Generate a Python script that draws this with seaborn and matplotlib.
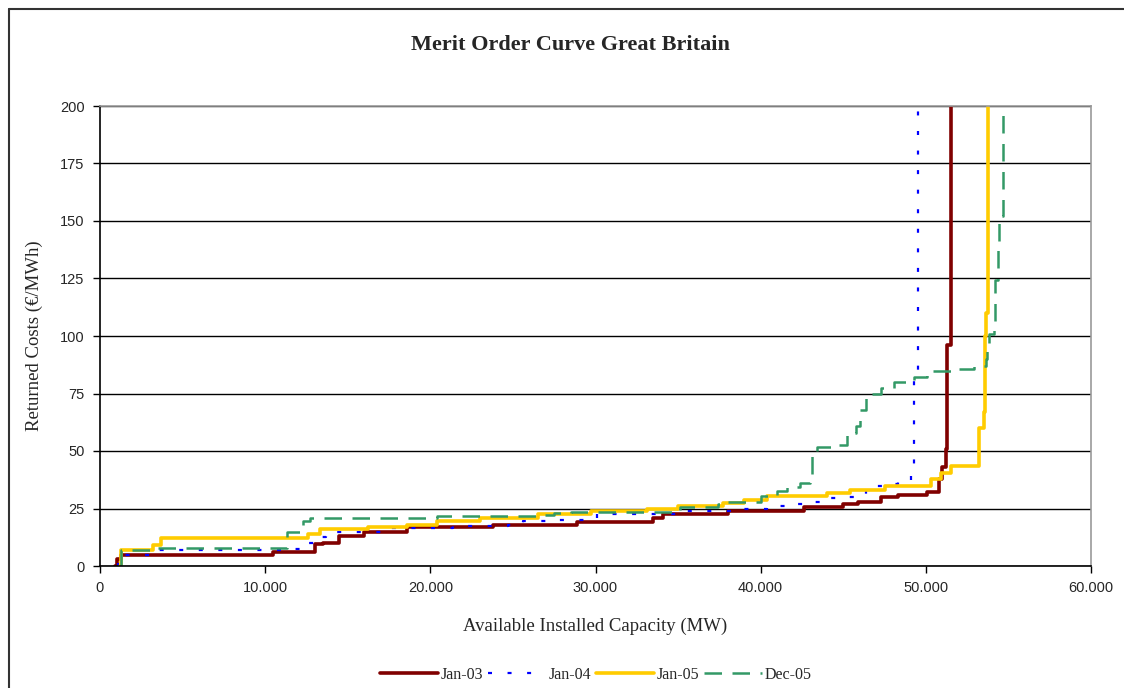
import numpy as np
import pandas as pd
import matplotlib
matplotlib.use("Agg")
import matplotlib.pyplot as plt
from matplotlib.lines import Line2D
import seaborn as sns

# Curvas de orden de mérito (capacidad MW, coste €/MWh)
cap_jan03 = [900, 1000, 1300, 10500, 13000, 13500, 14500, 16000, 18600, 23800, 28900,
             33500, 34100, 38000, 42600, 45000, 45900, 47300, 48300, 50100, 50800,
             51000, 51200, 51300, 51500]
cost_jan03 = [0, 3, 5, 6, 9.5, 10, 13, 15, 17, 18, 19,
              21, 22.5, 24, 25.5, 27, 28, 30, 31, 32, 38,
              43, 51, 96, 200]

cap_jan04 = [1000, 1100, 3300, 11300, 12200, 13100, 13700, 17000, 21400, 24700, 25600,
             27700, 30100, 35100, 38400, 40400, 41600, 42600, 43600, 44600, 45900,
             46400, 47700, 48300, 49100, 49300, 49500]
cost_jan04 = [0, 5, 7, 7.5, 10, 12.5, 15, 16.5, 17.5, 18, 19.5,
              20, 22.5, 24, 24.7, 26, 27, 28, 29.5, 30, 31,
              35, 35.5, 37.5, 43, 82, 200]

cap_jan05 = [1200, 1300, 3200, 3700, 12600, 13300, 16200, 18600, 20400, 23000, 26500,
             29700, 33100, 35000, 37700, 39000, 40400, 44000, 45400, 47500, 50300,
             50900, 51500, 53200, 53500, 53600, 53650, 53750]
cost_jan05 = [0, 7, 9, 12, 14, 16, 17, 18, 19.5, 21, 22.5,
              24, 24.7, 26, 27.3, 28.6, 30.4, 31.7, 33, 35, 37.7,
              40.5, 43.5, 60, 67, 100, 110, 200]

cap_dec05 = [1200, 1300, 3400, 11300, 12300, 12700, 20400, 26500, 27500, 28500, 35100,
             37400, 37800, 40000, 41000, 41600, 42400, 43000, 43100, 43400, 44600,
             45200, 45800, 46000, 46400, 47300, 48100, 49300, 50100, 51700, 52900,
             53650, 53700, 53800, 54100, 54200, 54350, 54400, 54700]
cost_dec05 = [0, 7, 7.8, 15, 19.5, 20.8, 21.7, 22, 23, 23.4, 25.6,
              27, 28, 30.4, 32.5, 34.5, 36.2, 40, 49.5, 51.6, 52.5,
              58, 61, 68, 75, 77.5, 80, 82, 84.6, 85.5, 87,
              90, 95.5, 100.7, 106, 124.5, 137.5, 152, 197]

series = ["Jan-03", "Jan-04", "Jan-05", "Dec-05"]
caps = [cap_jan03, cap_jan04, cap_jan05, cap_dec05]
costs = [cost_jan03, cost_jan04, cost_jan05, cost_dec05]
colores = ["#800000", "#0000FF", "#FFCC00", "#339966"]
anchos = [2.6, 1.6, 2.6, 1.8]
estilos = ["-", (0, (1.8, 7.0)), "-", (0, (7.0, 4.2))]

x_ticks = [0, 10000, 20000, 30000, 40000, 50000, 60000]
x_labels = ["0", "10.000", "20.000", "30.000", "40.000", "50.000", "60.000"]
y_ticks = [0, 25, 50, 75, 100, 125, 150, 175, 200]

sns.set_style("white")
plt.rcParams["font.family"] = ["Liberation Serif", "DejaVu Serif"]

fig = plt.figure(figsize=(11.24, 6.88), dpi=100)
ax = fig.add_axes([100 / 1124, 1 - 566 / 688, 991 / 1124, 460 / 688])

for nombre, x, y, c, lw, ls in zip(series, caps, costs, colores, anchos, estilos):
    df = pd.DataFrame({"cap": x, "cost": y})
    sns.lineplot(data=df, x="cap", y="cost", ax=ax, color=c, linewidth=lw,
                 linestyle=ls, drawstyle="steps-post", label=nombre, estimator=None)

ax.set_xlim(0, 60000)
ax.set_ylim(0, 200)
ax.set_xticks(x_ticks)
ax.set_xticklabels(x_labels, family="Liberation Sans", fontsize=10.5)
ax.set_yticks(y_ticks)
ax.set_yticklabels([str(v) for v in y_ticks], family="Liberation Sans", fontsize=10.5)
ax.tick_params(axis="both", direction="out", length=5, width=1, color="black",
               left=True, bottom=True, pad=6)
ax.yaxis.grid(True, color="black", linewidth=1)
ax.xaxis.grid(False)
ax.set_axisbelow(True)
for lado in ["left", "bottom"]:
    ax.spines[lado].set_color("black")
    ax.spines[lado].set_linewidth(1.2)
for lado in ["top", "right"]:
    ax.spines[lado].set_color("#999999")
    ax.spines[lado].set_linewidth(1.2)

ax.set_xlabel("Available Installed Capacity (MW)", fontsize=13.5, labelpad=16)
ax.set_ylabel("Returned Costs (€/MWh)", fontsize=13.5, labelpad=12)
fig.text(570 / 1124, 1 - 45 / 688, "Merit Order Curve Great Britain",
         ha="center", va="center", fontsize=16, fontweight="bold")

ax.legend(loc="center", bbox_to_anchor=(596 / 1124, 1 - 675 / 688),
          bbox_transform=fig.transFigure, ncol=4, frameon=False, fontsize=11.5,
          handlelength=3.6, columnspacing=0.3, handletextpad=0.2)

# marco exterior del gráfico (solo izquierda y arriba visibles)
fig.add_artist(Line2D([9 / 1124, 9 / 1124], [0, 1 - 9 / 688], color="#333333",
                      linewidth=1.5, transform=fig.transFigure))
fig.add_artist(Line2D([9 / 1124, 1], [1 - 9 / 688, 1 - 9 / 688], color="#333333",
                      linewidth=1.5, transform=fig.transFigure))

fig.savefig("out.png", dpi=100)
